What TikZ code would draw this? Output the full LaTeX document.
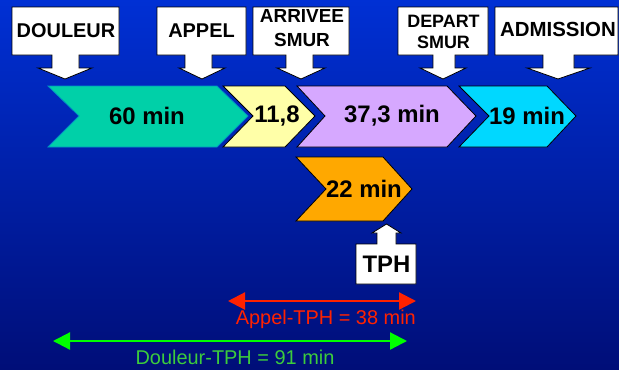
\documentclass[tikz,border=0pt]{standalone}
\usepackage{fontspec}
\setmainfont{Liberation Sans}
\usetikzlibrary{arrows.meta}
\definecolor{bgtop}{HTML}{0030D4}
\definecolor{bgbot}{HTML}{000E78}
\definecolor{cgreen}{HTML}{00D0A8}
\definecolor{cyellow}{HTML}{FFFFA8}
\definecolor{clilac}{HTML}{D6A8FF}
\definecolor{ccyan}{HTML}{00D8FF}
\definecolor{corange}{HTML}{FFA800}
\definecolor{cred}{HTML}{FF2200}
\definecolor{cgreenline}{HTML}{00FF00}
\definecolor{cgreentext}{HTML}{3CCC3C}
\tikzset{
  callout/.style={draw=black, fill=white, line width=0.8bp},
  chev/.style={draw=black, line width=0.8bp},
  lbl/.style={font=\bfseries\fontsize{20}{21}\selectfont, align=center, inner sep=0},
  durtxt/.style={font=\bfseries\fontsize{24}{26}\selectfont, inner sep=0},
  dimline/.style={line width=2.2bp, {Triangle[length=17bp,width=17bp]}-{Triangle[length=17bp,width=17bp]}},
  dimtxt/.style={font=\fontsize{20}{22}\selectfont, inner sep=0}
}
\begin{document}
\begin{tikzpicture}[x=1bp,y=-1bp]
\useasboundingbox (0,0) rectangle (619,369);
\shade[top color=bgtop, bottom color=bgbot] (0,0) rectangle (619,369);
% callouts
\path[callout] (12,7) -- (119,7) -- (119,55) -- (79,55) -- (79,68) -- (92,68) -- (65,79) -- (38,68) -- (52,68) -- (52,55) -- (12,55) -- cycle;
\node[lbl] (douleur) at (66,31) {DOULEUR};
\path[callout] (157,7) -- (246,7) -- (246,55) -- (212,55) -- (212,68) -- (225,68) -- (202,79) -- (179,68) -- (185,68) -- (185,55) -- (157,55) -- cycle;
\node[lbl] (appel) at (201.5,31) {APPEL};
\path[callout] (253,7) -- (349,7) -- (349,55) -- (313,55) -- (313,68) -- (325,68) -- (301,79) -- (277,68) -- (286,68) -- (286,55) -- (253,55) -- cycle;
\node[lbl,font=\bfseries\fontsize{19}{24}\selectfont] (arrivee) at (302,28.5) {ARRIVEE\\SMUR};
\path[callout] (398,7) -- (488,7) -- (488,55) -- (455,55) -- (455,68) -- (466,68) -- (443,79) -- (420,68) -- (433,68) -- (433,55) -- (398,55) -- cycle;
\node[lbl,font=\bfseries\fontsize{18}{20.5}\selectfont] (depart) at (443.5,32) {DEPART\\SMUR};
\path[callout] (495,7) -- (618,7) -- (618,55) -- (574,55) -- (574,68) -- (590,68) -- (558,79) -- (527,68) -- (543,68) -- (543,55) -- (495,55) -- cycle;
\node[lbl,font=\bfseries\fontsize{20.5}{22}\selectfont] (admission) at (558,29.5) {ADMISSION};
% chevrons
\path[chev, draw=cgreen!70!blue, fill=cgreen] (48,86) -- (217,86) -- (248,116) -- (217,147) -- (48,147) -- (79,116) -- cycle;
\node[durtxt] (d60) at (147,116) {60 min};
\path[chev, fill=cyellow] (223,86) -- (285,86) -- (315,116) -- (285,147) -- (223,147) -- (253,116) -- cycle;
\node[durtxt] (d118) at (277,116) {11,8};
\path[chev, fill=clilac] (297,86) -- (447,86) -- (476,116) -- (447,147) -- (297,147) -- (325,116) -- cycle;
\node[durtxt] (d373) at (392,116) {37,3 min};
\path[chev, fill=ccyan] (459,86) -- (547,86) -- (576,116) -- (547,147) -- (459,147) -- (489,116) -- cycle;
\node[durtxt] (d19) at (527,116) {19 min};
\path[chev, fill=corange] (296,157) -- (383,157) -- (412,189) -- (383,221) -- (296,221) -- (326,189) -- cycle;
\node[durtxt] (d22) at (364,189) {22 min};
% TPH
\path[callout] (356,244) -- (377,244) -- (377,233) -- (372,233) -- (386.5,224) -- (401,233) -- (396,233) -- (396,244) -- (416,244) -- (416,284) -- (356,284) -- cycle;
\node[lbl,font=\bfseries\fontsize{24}{26}\selectfont] (tph) at (386.5,264) {TPH};
% dimension arrows
\coordinate (redL) at (228,301);
\coordinate (redR) at (416,301);
\draw[dimline, cred] (redL) -- (redR);
\node[dimtxt, text=cred, anchor=base east] (redtxt) at (416,324) {Appel-TPH = 38 min};
\coordinate (grL) at (53,341);
\coordinate (grR) at (407,341);
\draw[dimline, cgreenline] (grL) -- (grR);
\node[dimtxt, text=cgreentext, anchor=base] (grtxt) at (235,364) {Douleur-TPH = 91 min};
\end{tikzpicture}
\end{document}
